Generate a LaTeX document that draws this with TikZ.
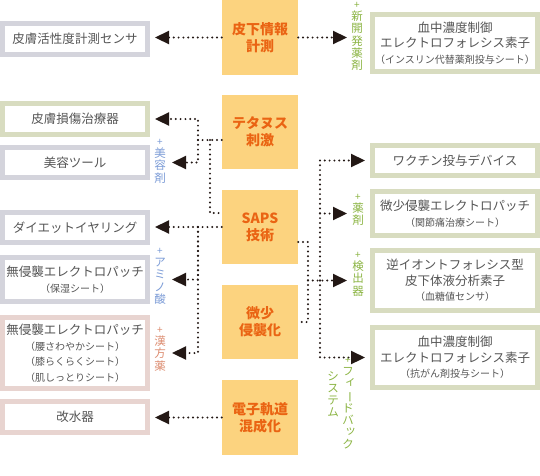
\documentclass[tikz,border=0pt]{standalone}
\usepackage{fontspec}
\setmainfont{Noto Sans CJK JP}
\usetikzlibrary{arrows.meta}

\definecolor{coreorange}{HTML}{FCD37F}
\definecolor{coretext}{HTML}{EA6413}
\definecolor{graybd}{HTML}{D4D4DC}
\definecolor{greenbd}{HTML}{D8DCC0}
\definecolor{pinkbd}{HTML}{E8D4D0}
\definecolor{boxtext}{HTML}{555555}
\definecolor{arrowink}{HTML}{231815}
\definecolor{lblblue}{HTML}{7B9BD6}
\definecolor{lblgreen}{HTML}{8BB443}
\definecolor{lblpink}{HTML}{DC8C70}

\newcommand{\subline}[1]{{\fontsize{10}{13}\selectfont #1}}
\newcommand{\smallplus}{{\fontsize{10}{10}\selectfont +}}
\newcommand{\vlong}{\rotatebox[origin=c]{-90}{ー}}
\newcommand{\vsmallkana}[1]{\raisebox{2pt}{\hspace*{5pt}#1}}

\tikzset{
  core/.style={fill=coreorange, minimum width=76pt, minimum height=75pt, inner sep=0pt,
    align=center, text=coretext, font=\fontsize{14}{17}\selectfont\bfseries},
  leftbox/.style={draw=#1, line width=5pt, fill=white, minimum width=145pt, inner sep=0pt,
    align=center, text=boxtext, font=\fontsize{12.5}{15.5}\selectfont},
  rightbox/.style={leftbox=greenbd, minimum width=165pt},
  vlabel/.style={text=#1, anchor=north, inner sep=0pt, align=center,
    font=\fontsize{11.5}{12.2}\selectfont},
  dotline/.style={draw=arrowink, line width=2.2pt, line cap=round, dash pattern=on 0pt off 4.8pt},
  dotarrow/.style={dotline, -{Triangle[length=14pt,width=13pt]}, shorten >=5pt},
}

\begin{document}
\begin{tikzpicture}[x=1pt,y=1pt,yscale=-1,xscale=1]
\useasboundingbox (0,0) rectangle (540,475);

% core technologies
\node[core] (skin) at (260,37.5) {皮下情報\\計測};
\node[core, minimum height=74pt] (tetanus) at (260,132) {テタヌス\\刺激};
\node[core, minimum height=74pt] (saps) at (260,227) {SAPS\\技術};
\node[core, minimum height=74pt] (micro) at (260,322) {微少\\侵襲化};
\node[core] (orbital) at (260,417.5) {電子軌道\\混成化};

% products, left
\node[leftbox=graybd, minimum height=31pt] (sensor) at (75,39) {皮膚活性度計測センサ};
\node[leftbox=greenbd, minimum height=31pt] (wound) at (75,119) {皮膚損傷治療器};
\node[leftbox=graybd, minimum height=30pt] (beauty) at (75,162.5) {美容ツール};
\node[leftbox=graybd, minimum height=30pt] (diet) at (75,227.5) {ダイエットイヤリング};
\node[leftbox=graybd, minimum height=44pt] (moist) at (75,279.5) {無侵襲エレクトロパッチ\\\subline{（保湿シート）}};
\node[leftbox=pinkbd, minimum height=71pt] (herbal) at (75,353) {無侵襲エレクトロパッチ\\\subline{（腰さわやかシート）}\\\subline{（膝らくらくシート）}\\\subline{（肌しっとりシート）}};
\node[leftbox=pinkbd, minimum height=31pt] (water) at (75,417) {改水器};

% products, right
\node[rightbox, minimum height=57pt] (insulin) at (455,43) {血中濃度制御\\エレクトロフォレシス素子\\\subline{（インスリン代替薬剤投与シート）}};
\node[rightbox, minimum height=30pt] (vaccine) at (455,160.5) {ワクチン投与デバイス};
\node[rightbox, minimum height=44pt] (joint) at (455,213.5) {微少侵襲エレクトロパッチ\\\subline{（関節痛治療シート）}};
\node[rightbox, minimum height=60pt] (ion) at (455,280.5) {逆イオントフォレシス型\\皮下体液分析素子\\\subline{（血糖値センサ）}};
\node[rightbox, minimum height=60pt] (anticancer) at (455,357.5) {血中濃度制御\\エレクトロフォレシス素子\\\subline{（抗がん剤投与シート）}};

% additions
\node[vlabel=lblgreen] (newdruglbl) at (357,2) {\smallplus\\新\\開\\発\\薬\\剤};
\node[vlabel=lblblue] (cosmeticlbl) at (160,139) {\smallplus\\美\\容\\剤};
\node[vlabel=lblblue] (aminolbl) at (160,248) {\smallplus\\ア\\ミ\\ノ\\酸};
\node[vlabel=lblpink] (kampolbl) at (160,327) {\smallplus\\漢\\方\\薬};
\node[vlabel=lblgreen] (druglbl) at (358,194) {\smallplus\\薬\\剤};
\node[vlabel=lblgreen] (detectlbl) at (358,252) {\smallplus\\検\\出\\器};
\node[vlabel=lblgreen] (feedbacklbl) at (348,357) {\smallplus\\フ\\\vsmallkana{ィ}\\\vlong\\ド\\バ\\\vsmallkana{ッ}\\ク};
\node[vlabel=lblgreen] (systemlbl) at (333,371) {シ\\ス\\テ\\ム};

% junctions
\coordinate (tbus) at (198,140);
\coordinate (tlink) at (210,140);
\coordinate (slink) at (210,213);
\coordinate (rbus) at (308,242);
\coordinate (fbus) at (320,0);

% connectors
\draw[dotarrow] (skin.west) -- (skin.west -| sensor.east);
\draw[dotarrow, shorten >=23pt] (skin.east) -- (skin.east -| insulin.west);

\draw[dotline] (tetanus.west |- tbus) -- (tbus);
\draw[dotarrow] (tbus) |- (wound.east);
\draw[dotarrow, shorten >=22pt] (tbus) |- (beauty.east);
\draw[dotline] (tlink) -- (slink) -- (slink -| saps.west);

\draw[dotarrow] (saps.west) -- (saps.west -| diet.east);
\draw[dotarrow, shorten >=22pt] (saps.west -| tbus) |- (moist.east);
\draw[dotarrow, shorten >=22pt] (saps.west -| tbus) |- (herbal.east);

\draw[dotline] (rbus -| saps.east) -- (rbus) |- (micro.east);
\draw[dotarrow, shorten >=23pt] (rbus |- ion.west) -- (ion.west);
\draw[dotarrow] (fbus |- ion.west) |- (vaccine.west);
\draw[dotarrow] (fbus |- ion.west) |- (anticancer.west);
\draw[dotarrow, shorten >=23pt] (fbus |- joint.west) -- (joint.west);

\draw[dotarrow] (orbital.west) -- (orbital.west -| water.east);

\end{tikzpicture}
\end{document}
